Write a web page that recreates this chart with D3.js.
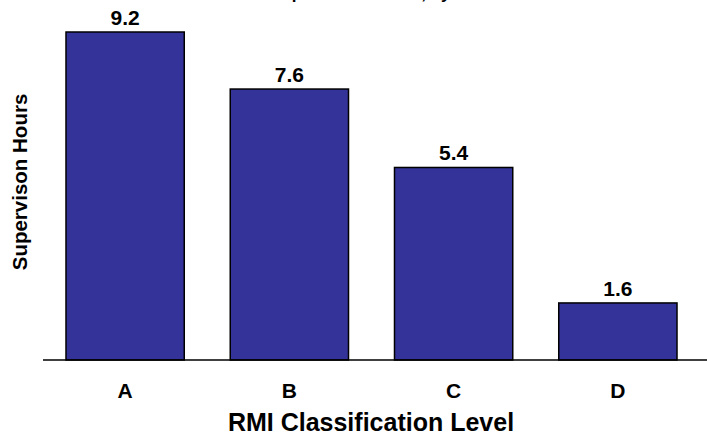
<!DOCTYPE html>
<html><head><meta charset="utf-8">
<script src="https://cdn.jsdelivr.net/npm/d3@7/dist/d3.min.js"></script>
<style>body{margin:0;background:#fff}svg{display:block;font-family:"Liberation Sans",Arial,sans-serif}</style>
</head><body><svg id="c" width="707" height="438"></svg>
<script>
const categories = ["A","B","C","D"];
const values = [9.2, 7.6, 5.4, 1.6];
const valueLabels = ["9.2","7.6","5.4","1.6"];
const titleText = "Supervision Hours, by RMI Level";
const xTitle = "RMI Classification Level";
const yTitle = "Supervison Hours";

const svg = d3.select("#c");
const baseY = 360;
const x = d3.scaleBand().domain(categories).range([43, 700]).paddingInner(0.28).paddingOuter(0.14);
const y = d3.scaleLinear().domain([0, 9.2]).range([baseY, 32]);

svg.append("text").attr("x", 270).attr("y", -1).attr("font-size", 17).attr("font-weight", "bold").text(titleText);

svg.selectAll("rect.bar").data(values).join("rect").attr("class","bar")
  .attr("x", (d,i)=>x(categories[i])).attr("width", x.bandwidth())
  .attr("y", d=>y(d)).attr("height", d=>baseY - y(d))
  .attr("fill", "#333399").attr("stroke", "#000").attr("stroke-width", 1.5);

svg.append("line").attr("x1", 43).attr("x2", 707).attr("y1", baseY).attr("y2", baseY)
  .attr("stroke", "#000").attr("stroke-width", 1.5);

svg.selectAll("text.val").data(values).join("text").attr("class","val")
  .attr("x", (d,i)=>x(categories[i]) + x.bandwidth()/2).attr("y", d=>y(d) - 7)
  .attr("text-anchor","middle").attr("font-size", 21).attr("font-weight","bold")
  .text((d,i)=>valueLabels[i]);

const xAxis = svg.append("g").attr("transform", `translate(0,${baseY})`)
  .call(d3.axisBottom(x).tickSize(0).tickPadding(23));
xAxis.select(".domain").remove();
xAxis.selectAll("text").attr("font-size", 21).attr("font-weight","bold").attr("fill","#000")
  .attr("font-family", '"Liberation Sans",Arial,sans-serif');

svg.append("text").attr("x", 371).attr("y", 431).attr("text-anchor","middle")
  .attr("font-size", 25).attr("font-weight","bold").text(xTitle);

svg.append("text").attr("transform", "translate(27,182) rotate(-90)").attr("text-anchor","middle")
  .attr("font-size", 20.5).attr("font-weight","bold").text(yTitle);
</script></body></html>
